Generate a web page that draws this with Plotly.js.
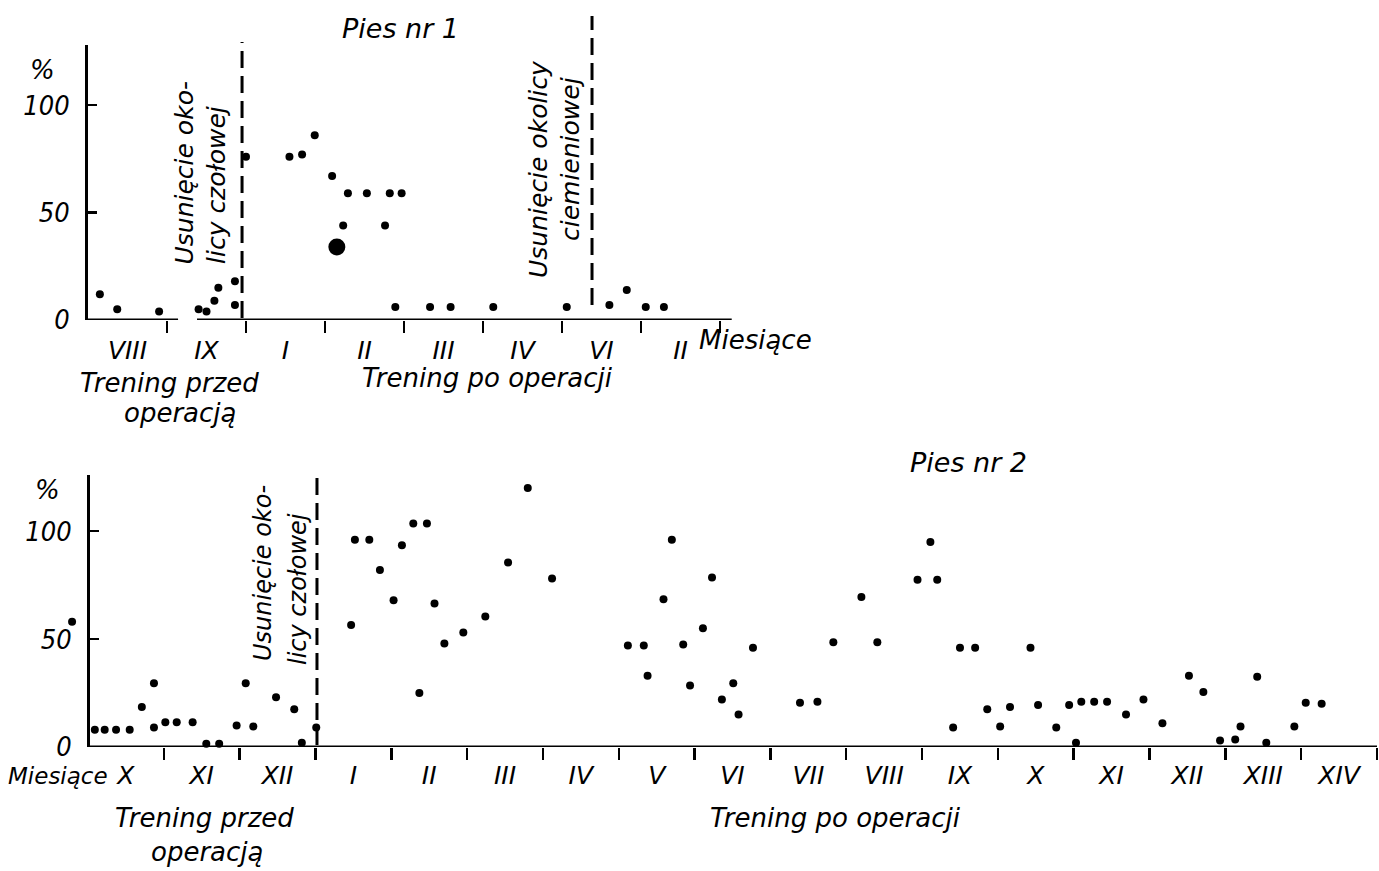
<!DOCTYPE html>
<html><head><meta charset="utf-8">
<script src="https://cdn.plot.ly/plotly-3.0.1.min.js"></script>
<style>html,body{margin:0;padding:0;background:#fff}</style>
</head><body><div id="chart" style="width:1379px;height:871px"></div>
<script>
// ---------- DATA ----------
// Pies nr 1 : month labels of x axis segments
const dog1Months = ['VIII','IX','I','II','III','IV','VI','II'];
// points: x = months since start of record, y = %
const dog1X = [0.15,0.37,0.9,1.4,1.5,1.6,1.65,1.86,1.86,
               2.0,2.55,2.71,2.87,3.09,3.29,3.53,3.82,3.97,3.23,3.76,3.89,4.33,4.59,5.13,6.06,6.6,6.82,7.06,7.29];
const dog1Y = [12,5,4,5,4,9,15,18,7,
               76,76,77,86,67,59,59,59,59,44,44,6,6,6,6,6,7,14,6,6];
const dog1BlobX = [3.15];
const dog1BlobY = [34];
const dog1Operations = [1.95, 6.38];

// Pies nr 2
const dog2Months = ['X','XI','XII','I','II','III','IV','V','VI','VII','VIII','IX','X','XI','XII','XIII','XIV'];
const dog2X = [-0.21,0.09,0.22,0.37,0.55,0.71,0.87,0.87,1.02,1.17,1.38,1.56,1.73,1.96,2.08,2.18,2.48,2.72,2.82,3.01,
  3.47,3.52,3.71,3.85,4.03,4.14,4.29,4.47,4.37,4.57,4.7,4.95,5.24,5.54,5.8,6.12,
  7.12,7.33,7.38,7.59,7.7,7.85,7.94,8.11,8.23,8.36,8.51,8.58,8.77,9.39,9.62,9.83,10.2,10.41,10.94,11.11,11.2,
  11.41,11.5,11.7,11.86,12.03,12.16,12.43,12.53,12.77,12.94,13.03,13.1,13.27,13.44,13.69,13.92,14.17,14.52,14.71,
  14.93,15.13,15.2,15.42,15.54,15.91,16.06,16.27];
const dog2Y = [58,8,8,8,8,18.5,29.5,9,11.5,11.5,11.5,1.5,1.5,10,29.5,9.5,23,17.5,2,9,
  56.5,96,96,82,68,93.5,103.5,103.5,25,66.5,48,53,60.5,85.5,120,78,
  47,47,33,68.5,96,47.5,28.5,55,78.5,22,29.5,15,46,20.5,21,48.5,69.5,48.5,77.5,95,77.5,
  9,46,46,17.5,9.5,18.5,46,19.5,9,19.5,2,21,21,21,15,22,11,33,25.5,
  3,3.5,9.5,32.5,2,9.5,20.5,20];
const dog2Operations = [3.02];

// ---------- helpers ----------
const W = 1379, H = 871;
const px = v => v / W, py = v => 1 - v / H;
const TXT = 'DejaVu Sans, sans-serif';
const NUM = 'Liberation Sans Narrow, DejaVu Sans Condensed, DejaVu Sans, sans-serif';
const f = (s, fam) => ({family: fam || TXT, size: s, color: '#000', style: 'italic'});
const centers = arr => arr.map((_, i) => i + 0.5);
const bounds = n => Array.from({length: n}, (_, i) => i + 1);

const mk = (x, y, xa, ya, size) => ({
  type: 'scatter', mode: 'markers', x, y, xaxis: xa, yaxis: ya,
  marker: {color: '#000', size: size}, cliponaxis: false, hoverinfo: 'skip', showlegend: false
});

const traces = [
  mk(dog1X, dog1Y, 'x', 'y', 8),
  mk(dog1BlobX, dog1BlobY, 'x', 'y', 17),
  mk(dog2X, dog2Y, 'x2', 'y2', 8)
];

const x1Max = 8.15;
const x2Min = -0.3, x2Max = 17, x2Scale = (1377 - 88) / 17;
const axCommon = {showgrid: false, zeroline: false, linecolor: '#000', linewidth: 3, fixedrange: true};
const minorTicks = n => ({tickmode: 'array', tickvals: bounds(n), ticks: 'outside', ticklen: 12, tickwidth: 2.5, tickcolor: '#000', showgrid: false});
const solid = {color: '#000', width: 3};
const dashed = {color: '#000', width: 3, dash: '17px,8px'};

const layout = {
  width: W, height: H, margin: {l: 0, r: 0, t: 0, b: 0},
  paper_bgcolor: '#fff', plot_bgcolor: 'rgba(0,0,0,0)', showlegend: false,
  xaxis: Object.assign({}, axCommon, {
    domain: [px(88), px(88 + x1Max * 79)], range: [0, x1Max], anchor: 'y',
    showline: false, tickmode: 'array', tickvals: centers(dog1Months), ticktext: dog1Months,
    ticks: '', tickfont: f(25), ticklabelstandoff: 13, minor: minorTicks(dog1Months.length)
  }),
  yaxis: Object.assign({}, axCommon, {
    domain: [py(320), py(45)], range: [0, 128], anchor: 'x', showline: true,
    tickmode: 'array', tickvals: [0, 50, 100], ticks: 'inside', ticklen: 9, tickwidth: 2.5, tickcolor: '#000',
    tickfont: f(27, NUM), ticklabelstandoff: 10
  }),
  xaxis2: Object.assign({}, axCommon, {
    domain: [px(88 + x2Min * x2Scale), px(1377)], range: [x2Min, x2Max], anchor: 'y2',
    showline: false, tickmode: 'array', tickvals: centers(dog2Months), ticktext: dog2Months,
    ticks: '', tickfont: f(25), ticklabelstandoff: 11, minor: minorTicks(dog2Months.length)
  }),
  yaxis2: Object.assign({}, axCommon, {
    domain: [py(747), py(475)], range: [0, 126], anchor: 'free', position: px(88), showline: true,
    tickmode: 'array', tickvals: [0, 50, 100], ticks: 'inside', ticklen: 9, tickwidth: 2.5, tickcolor: '#000',
    tickfont: f(27, NUM), ticklabelstandoff: 10
  }),
  shapes: [
    // broken x axis of dog 1
    {type: 'line', xref: 'x', yref: 'y', x0: 0, x1: 1.14, y0: 0, y1: 0, line: solid},
    {type: 'line', xref: 'x', yref: 'y', x0: 1.38, x1: x1Max, y0: 0, y1: 0, line: solid},
    // x axis of dog 2
    {type: 'line', xref: 'x2', yref: 'y2', x0: 0, x1: x2Max, y0: 0, y1: 0, line: solid},
    // operation lines
    {type: 'line', xref: 'x', yref: 'paper', x0: dog1Operations[0], x1: dog1Operations[0], y0: py(318), y1: py(42), line: dashed},
    {type: 'line', xref: 'x', yref: 'paper', x0: dog1Operations[1], x1: dog1Operations[1], y0: py(305), y1: py(16), line: dashed},
    {type: 'line', xref: 'x2', yref: 'paper', x0: dog2Operations[0], x1: dog2Operations[0], y0: py(745), y1: py(470), line: dashed}
  ],
  annotations: [
    {text: 'Pies nr 1', x: px(400), y: py(28), font: f(27)},
    {text: 'Pies nr 2', x: px(968), y: py(462), font: f(27)},
    {text: '%', x: px(42), y: py(70), font: f(26)},
    {text: '%', x: px(47), y: py(490), font: f(26)},
    // rotated notes, one annotation per line
    {text: 'Usunięcie oko-', x: px(184), y: py(267), textangle: -90, yanchor: 'bottom', font: f(25)},
    {text: 'licy czołowej', x: px(216), y: py(266), textangle: -90, yanchor: 'bottom', font: f(25)},
    {text: 'Usunięcie okolicy', x: px(538), y: py(280), textangle: -90, yanchor: 'bottom', font: f(25)},
    {text: 'ciemieniowej', x: px(570), y: py(243), textangle: -90, yanchor: 'bottom', font: f(25)},
    {text: 'Usunięcie oko-', x: px(263), y: py(663), textangle: -90, yanchor: 'bottom', font: f(24)},
    {text: 'licy czołowej', x: px(298), y: py(667), textangle: -90, yanchor: 'bottom', font: f(24)},
    {text: 'Trening przed', x: px(169), y: py(383), font: f(26)},
    {text: 'operacją', x: px(180), y: py(413), font: f(26)},
    {text: 'Trening po operacji', x: px(487), y: py(378), font: f(26)},
    {text: 'Miesiące', x: px(755), y: py(340), font: f(26)},
    {text: 'Miesiące', x: px(58), y: py(776), font: f(23)},
    {text: 'Trening przed', x: px(205), y: py(818), font: f(26)},
    {text: 'operacją', x: px(207), y: py(852), font: f(26)},
    {text: 'Trening po operacji', x: px(835), y: py(818), font: f(26)}
  ].map(a => Object.assign({xref: 'paper', yref: 'paper', showarrow: false, xanchor: 'center', yanchor: 'middle'}, a))
};

Plotly.newPlot('chart', traces, layout, {staticPlot: true, displayModeBar: false});
</script>
</body></html>
